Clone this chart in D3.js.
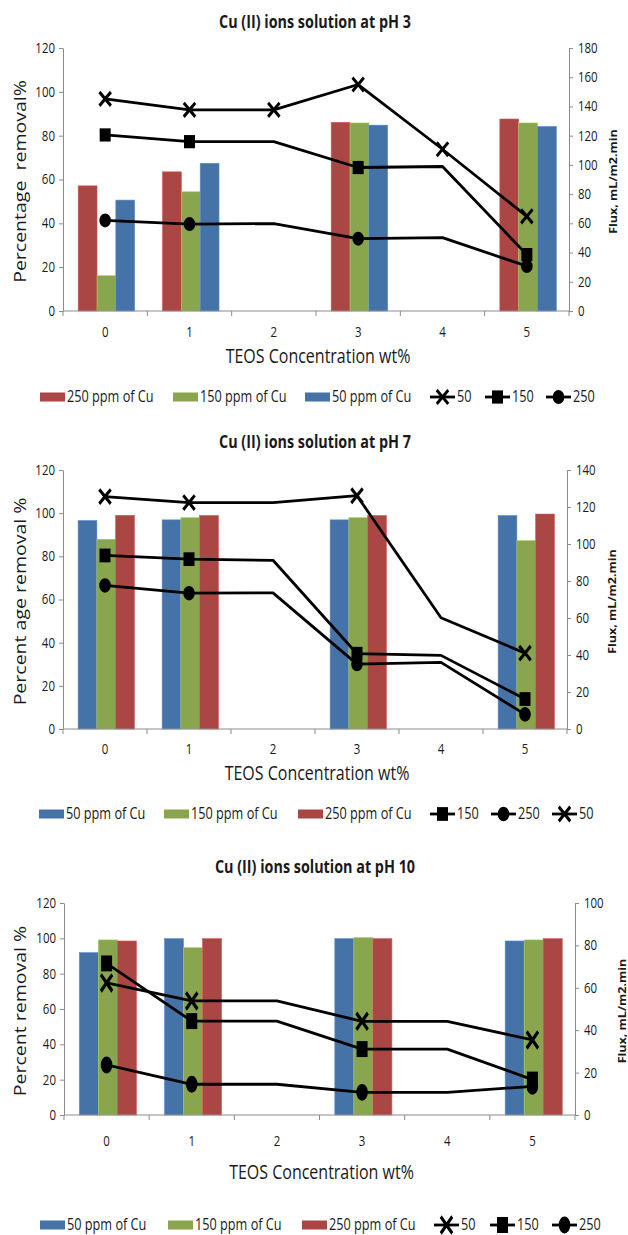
<!DOCTYPE html>
<html>
<head>
<meta charset="utf-8">
<script src="https://cdn.jsdelivr.net/npm/d3@7"></script>
<style>
  body { margin: 0; background: #fff; }
  text { font-family: "Open Sans", sans-serif; fill: #1a1a1a; }
</style>
</head>
<body>
<div id="chart"></div>
<script>
const width = 628;
const height = 1235;

// x categories (TEOS wt%) and the ones that carry bars
const categories = [0, 1, 2, 3, 4, 5];
const barCategories = [0, 1, 3, 5];

// pH 3 : removal % (bars) and flux (lines)
const ph3Removal250 = [57.1, 63.5, 86.1, 87.6];
const ph3Removal150 = [16.1, 54.4, 85.8, 85.8];
const ph3Removal50 = [50.6, 67.4, 84.8, 84.2];
const ph3Flux50 = [145.2, 137.7, 137.7, 155.0, 110.7, 64.8];
const ph3Flux150 = [120.5, 115.9, 115.9, 98.2, 98.9, 38.6];
const ph3Flux250 = [62.0, 59.5, 59.8, 49.5, 50.2, 30.7];

// pH 7
const ph7Removal50 = [96.6, 96.9, 96.9, 98.9];
const ph7Removal150 = [87.9, 97.9, 97.9, 87.3];
const ph7Removal250 = [99.0, 98.9, 98.9, 99.6];
const ph7Flux150 = [93.8, 91.8, 91.2, 40.7, 39.8, 16.2];
const ph7Flux250 = [77.6, 73.4, 73.6, 35.1, 36.0, 7.9];
const ph7Flux50 = [125.6, 122.4, 122.4, 126.1, 60.1, 41.0];

// pH 10
const ph10Removal50 = [91.9, 99.8, 99.8, 98.5];
const ph10Removal150 = [99.1, 94.7, 100.4, 99.1];
const ph10Removal250 = [98.5, 99.8, 99.8, 99.8];
const ph10Flux50 = [62.3, 53.8, 53.8, 44.2, 44.2, 35.4];
const ph10Flux150 = [71.5, 44.3, 44.3, 31.1, 31.1, 16.7];
const ph10Flux250 = [23.6, 14.5, 14.5, 10.7, 10.7, 13.5];

const leftTicks = [0, 20, 40, 60, 80, 100, 120];

const red = "#AA4643";
const green = "#89A54E";
const blue = "#4572A7";
const axisColor = "#8c8c8c";
const sx = 0.82; // the source picture is squeezed sideways

const panels = [
  {
    title: "Cu (II) ions solution at pH 3",
    yTitle: "Percentage  removal%",
    rightMax: 180,
    box: { left: 63, right: 569, top: 48, bottom: 311 },
    titleY: 22, tickY: 332, xTitleY: 356, legendY: 397, yTitleX: 20, rTitleX: 613,
    stretch: 1.2,
    bars: [
      { name: "250 ppm of Cu", color: red, values: ph3Removal250 },
      { name: "150 ppm of Cu", color: green, values: ph3Removal150 },
      { name: "50 ppm of Cu", color: blue, values: ph3Removal50 }
    ],
    lines: [
      { name: "50", marker: "x", values: ph3Flux50, markAt: [0, 1, 2, 3, 4, 5] },
      { name: "150", marker: "square", values: ph3Flux150, markAt: [0, 1, 3, 5] },
      { name: "250", marker: "circle", values: ph3Flux250, markAt: [0, 1, 3, 5] }
    ],
    legendX: [40, 173, 305, 430, 485, 546]
  },
  {
    title: "Cu (II) ions solution at pH 7",
    yTitle: "Percent age removal %",
    rightMax: 140,
    box: { left: 63, right: 567, top: 470, bottom: 729 },
    titleY: 442, tickY: 749, xTitleY: 773, legendY: 814, yTitleX: 20, rTitleX: 612,
    stretch: 1.25,
    bars: [
      { name: "50 ppm of Cu", color: blue, values: ph7Removal50 },
      { name: "150 ppm of Cu", color: green, values: ph7Removal150 },
      { name: "250 ppm of Cu", color: red, values: ph7Removal250 }
    ],
    lines: [
      { name: "150", marker: "square", values: ph7Flux150, markAt: [0, 1, 3, 5] },
      { name: "250", marker: "circle", values: ph7Flux250, markAt: [0, 1, 3, 5] },
      { name: "50", marker: "x", values: ph7Flux50, markAt: [0, 1, 3, 5] }
    ],
    legendX: [39, 164, 298, 430, 491, 552]
  },
  {
    title: "Cu (II) ions solution at pH 10",
    yTitle: "Percent removal %",
    rightMax: 100,
    box: { left: 64, right: 575, top: 903, bottom: 1115 },
    titleY: 867, tickY: 1141, xTitleY: 1172, legendY: 1225, yTitleX: 20, rTitleX: 622,
    stretch: 1.45,
    bars: [
      { name: "50 ppm of Cu", color: blue, values: ph10Removal50 },
      { name: "150 ppm of Cu", color: green, values: ph10Removal150 },
      { name: "250 ppm of Cu", color: red, values: ph10Removal250 }
    ],
    lines: [
      { name: "50", marker: "x", values: ph10Flux50, markAt: [0, 1, 3, 5] },
      { name: "150", marker: "square", values: ph10Flux150, markAt: [0, 1, 3, 5] },
      { name: "250", marker: "circle", values: ph10Flux250, markAt: [0, 1, 3, 5] }
    ],
    legendX: [40, 168, 302, 434, 490, 552]
  }
];

let svg = d3.select("#chart")
            .append("svg")
            .attr("width", width)
            .attr("height", height);

function label(g, x, y, str, opts) {
  const rot = opts.rotate || 0;
  const scale = rot ? `scale(1,${sx})` : `scale(${sx},1)`;
  return g.append("text")
          .attr("transform", `translate(${x},${y}) rotate(${rot}) ${scale}`)
          .attr("dy", "0.35em")
          .attr("text-anchor", opts.anchor || "middle")
          .attr("font-size", opts.size)
          .attr("font-weight", opts.bold ? "bold" : "normal")
          .style("white-space", "pre")
          .text(str);
}

const symbolTypes = { x: d3.symbolX, square: d3.symbolSquare, circle: d3.symbolCircle };
const symbolSizes = { x: 88, square: 121, circle: 106 };

function drawMarker(g, type, x, y, stretch) {
  const path = d3.symbol(symbolTypes[type], symbolSizes[type])();
  const m = g.append("path")
             .attr("d", path)
             .attr("transform", `translate(${x},${y}) scale(1,${stretch})`);
  if (type === "x") {
    m.attr("fill", "none").attr("stroke", "#000").attr("stroke-width", 2.8);
  } else {
    m.attr("fill", "#000");
  }
}

function drawPanel(p) {
  const g = svg.append("g");
  const b = p.box;

  const x = d3.scaleBand().domain(categories).range([b.left, b.right]);
  const yLeft = d3.scaleLinear().domain([0, 120]).range([b.bottom, b.top]);
  const yRight = d3.scaleLinear().domain([0, p.rightMax]).range([b.bottom, b.top]);
  const inner = d3.scaleBand()
                  .domain(d3.range(p.bars.length))
                  .range([x.bandwidth() * 0.18, x.bandwidth() * 0.85]);

  label(g, width / 2 + 1, p.titleY, p.title, { size: 17.5, bold: true });

  // bars
  p.bars.forEach((s, si) => {
    g.selectAll(null)
     .data(barCategories)
     .enter()
     .append("rect")
     .attr("x", c => x(c) + inner(si))
     .attr("width", inner.bandwidth())
     .attr("y", (c, i) => yLeft(s.values[i]))
     .attr("height", (c, i) => yLeft(0) - yLeft(s.values[i]))
     .attr("fill", s.color)
     .attr("stroke", d3.color(s.color).brighter(0.6))
     .attr("stroke-width", 0.6);
  });

  // left axis
  const leftAxis = d3.axisLeft(yLeft).tickValues(leftTicks).tickSize(4).tickSizeOuter(0);
  const la = g.append("g").attr("transform", `translate(${b.left},0)`).call(leftAxis);
  // right axis
  const rightAxis = d3.axisRight(yRight).tickValues(d3.range(0, p.rightMax + 1, 20)).tickSize(4).tickSizeOuter(0);
  const ra = g.append("g").attr("transform", `translate(${b.right},0)`).call(rightAxis);
  [la, ra].forEach(a => {
    a.select(".domain").attr("stroke", axisColor);
    a.selectAll(".tick line").attr("stroke", axisColor);
    a.selectAll(".tick text").remove();
  });
  leftTicks.forEach(t => label(g, b.left - 8, yLeft(t), String(t), { size: 14, anchor: "end" }));
  yRight.ticks(p.rightMax / 20).forEach(t => label(g, b.right + 9, yRight(t), String(t), { size: 14, anchor: "start" }));

  // x axis with boundary ticks
  g.append("line")
   .attr("x1", b.left).attr("x2", b.right)
   .attr("y1", b.bottom).attr("y2", b.bottom)
   .attr("stroke", axisColor);
  const edges = categories.map(c => x(c)).concat([x(categories[categories.length - 1]) + x.bandwidth()]);
  g.selectAll(null)
   .data(edges)
   .enter()
   .append("line")
   .attr("x1", d => d).attr("x2", d => d)
   .attr("y1", b.bottom).attr("y2", b.bottom + 5)
   .attr("stroke", axisColor);
  categories.forEach(c => label(g, x(c) + x.bandwidth() / 2, p.tickY, String(c), { size: 14 }));

  // flux lines
  const cx = c => x(c) + x.bandwidth() / 2;
  p.lines.forEach(s => {
    const line = d3.line()
                   .x((v, i) => cx(categories[i]))
                   .y(v => yRight(v));
    g.append("path")
     .attr("d", line(s.values))
     .attr("fill", "none")
     .attr("stroke", "#000")
     .attr("stroke-width", 2.8)
     .attr("stroke-linejoin", "round");
    s.markAt.forEach(i => drawMarker(g, s.marker, cx(categories[i]), yRight(s.values[i]), p.stretch));
  });

  // axis titles
  label(g, (b.left + b.right) / 2 + 2, p.xTitleY, "TEOS Concentration wt%", { size: 19.5 });
  label(g, p.yTitleX, (b.top + b.bottom) / 2 + 2, p.yTitle, { size: 19.5, rotate: -90 });
  label(g, p.rTitleX, (b.top + b.bottom) / 2 + 2, "Flux, mL/m2.min", { size: 12.5, bold: true, rotate: -90 });

  // legend
  const items = p.bars.map(s => ({ type: "bar", s })).concat(p.lines.map(s => ({ type: "line", s })));
  items.forEach((it, i) => {
    const lx = p.legendX[i];
    const ly = p.legendY;
    if (it.type === "bar") {
      g.append("rect")
       .attr("x", lx).attr("y", ly - 4.5)
       .attr("width", 25).attr("height", 9)
       .attr("fill", it.s.color);
    } else {
      g.append("line")
       .attr("x1", lx).attr("x2", lx + 25)
       .attr("y1", ly).attr("y2", ly)
       .attr("stroke", "#000").attr("stroke-width", 2.8);
      drawMarker(g, it.s.marker, lx + 12.5, ly, p.stretch);
    }
    label(g, lx + 27, ly, it.s.name, { size: 15.5, anchor: "start" });
  });
}

panels.forEach(drawPanel);
</script>
</body>
</html>
